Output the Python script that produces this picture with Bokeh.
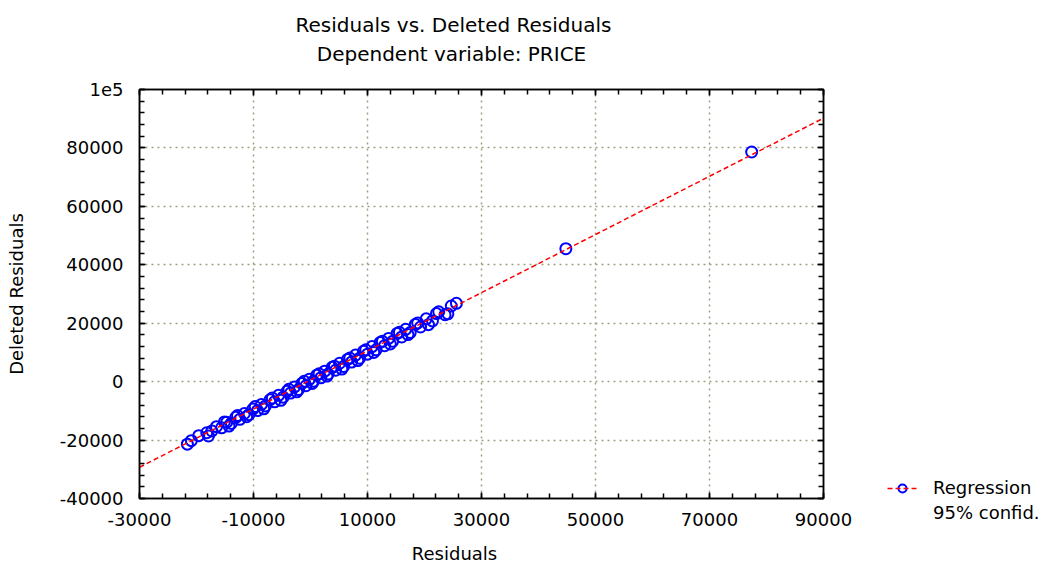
from bokeh.plotting import figure
from bokeh.layouts import row, column
from bokeh.models import (FixedTicker, LinearAxis, Range1d, Legend, LegendItem,
                          Label, ColumnDataSource, Spacer)
from bokeh.embed import file_html
from bokeh.resources import INLINE

# ---------------- data ----------------
residuals = [-21600, -20900, -19600, -18200, -17900, -17300, -16500, -15600, -15100, -14700,
             -14300, -13900, -13100, -12800, -12400, -11600, -11200, -10800, -10100, -9700,
             -9300, -8600, -8200, -7900, -7100, -6700, -6300, -5600, -5200, -4800,
             -4100, -3800, -3500, -2800, -2400, -2100, -1500, -1100, -800, -200,
             300, 500, 1100, 1500, 1800, 2500, 2900, 3100, 3800, 4200,
             4400, 5100, 5500, 5800, 6500, 6900, 7200, 7900, 8300, 8600,
             9300, 9700, 10000, 10800, 11100, 11500, 12200, 12600, 13000, 13700,
             14000, 14400, 15200, 15600, 16000, 16700, 17100, 17500, 18400, 18800,
             19300, 20300, 20700, 21400, 22100, 22500, 23600, 24100, 24700, 25600,
             44800, 77400]
deleted_residuals = [-21400, -20200, -18500, -17500, -18600, -16900, -15400, -15800, -13800, -13900,
                     -15200, -14300, -12200, -11600, -12900, -10900, -12000, -11300, -9400, -8500,
                     -9900, -7800, -9300, -8300, -6200, -5600, -6900, -4700, -6400, -5300,
                     -3300, -2600, -3900, -1800, -3500, -2700, -600, 100, -1400, 800,
                     -600, 100, 2200, 2700, 1300, 3600, 1900, 2600, 4900, 5300,
                     3900, 6300, 4300, 5200, 7600, 8100, 6700, 9100, 7200, 8000,
                     10400, 10900, 9400, 12000, 10000, 10900, 13400, 13800, 12300, 14800,
                     12900, 13800, 16500, 16900, 15300, 17900, 16100, 16800, 19600, 20100,
                     18700, 21500, 19500, 20800, 23300, 23900, 22900, 23200, 25900, 26800,
                     45500, 78600]
reg_x = [-30000, 90000]
reg_y = [-29300, 90200]

x_ticks = [-30000, -10000, 10000, 30000, 50000, 70000, 90000]
x_tick_labels = ["-30000", "-10000", "10000", "30000", "50000", "70000", "90000"]
y_ticks = [-40000, -20000, 0, 20000, 40000, 60000, 80000, 100000]
y_tick_labels = ["-40000", "-20000", "0", "20000", "40000", "60000", "80000", "1e5"]

title_text = "Residuals vs. Deleted Residuals"
subtitle_text = "Dependent variable: PRICE"
x_label = "Residuals"
y_label = "Deleted Residuals"
legend_labels = ["Regression", "95% confid."]

# ---------------- layout (pixel geometry of the page) ----------------
W, H = 1050, 565
TOP_H = 75           # strip holding the two titles
BOT_H = 25           # strip holding the x-axis title
MID_H = H - TOP_H - BOT_H
MAIN_W = 860
SIDE_W = W - MAIN_W
FL, FR, FT, FB = 139, 823, 89, 498      # frame edges on the page
X0, X1 = -30000, 90000
Y0, Y1 = -40000, 100000
LEG_LEFT, LEG_TOP = 887, 477            # legend glyph column / top edge on the page
LEG_GAP = LEG_LEFT - MAIN_W             # legend margin inside its strip

FONT = "DejaVu Sans"
FS = "18px"


def strip(width, height):
    f = figure(width=width, height=height, output_backend="svg", toolbar_location=None,
               title=None, x_range=Range1d(0, width), y_range=Range1d(0, height),
               x_axis_location=None, y_axis_location=None,
               min_border=0, min_border_left=0, min_border_right=0,
               min_border_top=0, min_border_bottom=0)
    f.outline_line_color = None
    f.grid.visible = False
    f.background_fill_color = "white"
    f.border_fill_color = "white"
    return f


def put_text(f, txt, px, py, size, height, top_offset=0):
    f.add_layout(Label(x=px, y=height - (py - top_offset), text=txt, text_font=FONT,
                       text_font_size=size, text_align="center", text_baseline="middle",
                       text_color="black"))


# ---- title strip ----
top = strip(W, TOP_H)
put_text(top, title_text, 453, 24, "20px", TOP_H)
put_text(top, subtitle_text, 451, 53, "20px", TOP_H)

# ---- main plot ----
p = figure(width=MAIN_W, height=MID_H, output_backend="svg", toolbar_location=None, title=None,
           x_range=Range1d(X0, X1), y_range=Range1d(Y0, Y1),
           x_axis_location=None, y_axis_location=None,
           min_border_left=FL, min_border_right=MAIN_W - FR,
           min_border_top=FT - TOP_H, min_border_bottom=TOP_H + MID_H - FB)
p.background_fill_color = "white"
p.border_fill_color = "white"
p.outline_line_color = "black"
p.outline_line_width = 1.5

minor_x = list(range(X0, X1 + 1, 4000))
minor_y = list(range(Y0, Y1 + 1, 4000))


def make_axis(kind, labels):
    ticks = x_ticks if kind == "x" else y_ticks
    tl = x_tick_labels if kind == "x" else y_tick_labels
    ax = LinearAxis(ticker=FixedTicker(ticks=ticks, minor_ticks=minor_x if kind == "x" else minor_y))
    ax.axis_line_color = "black"
    ax.axis_line_width = 1.5
    ax.major_tick_in = 6
    ax.major_tick_out = 0
    ax.minor_tick_in = 5
    ax.minor_tick_out = 0
    ax.major_tick_line_width = 1.5
    ax.minor_tick_line_width = 1.5
    ax.major_tick_line_color = "black"
    ax.minor_tick_line_color = "black"
    if labels:
        ax.major_label_overrides = {t: s for t, s in zip(ticks, tl)}
        ax.major_label_text_font = FONT
        ax.major_label_text_font_size = FS
        ax.major_label_text_color = "black"
    else:
        ax.major_label_overrides = {t: "" for t in ticks}
        ax.major_label_text_font_size = "0px"
        ax.major_label_standoff = 0
    return ax


xb = make_axis("x", True)
xb.major_label_standoff = 14
yl = make_axis("y", True)
yl.major_label_standoff = 16
yl.axis_label = y_label
yl.axis_label_text_font = FONT
yl.axis_label_text_font_size = FS
yl.axis_label_text_font_style = "normal"
yl.axis_label_text_color = "black"
yl.axis_label_standoff = 30

p.add_layout(xb, "below")
p.add_layout(yl, "left")
p.add_layout(make_axis("x", False), "above")
p.add_layout(make_axis("y", False), "right")

p.xgrid.ticker = FixedTicker(ticks=x_ticks)
p.ygrid.ticker = FixedTicker(ticks=y_ticks)
for g in (p.xgrid, p.ygrid):
    g.grid_line_color = "#a09e80"
    g.grid_line_dash = "2 4"
    g.grid_line_width = 1.5

src = ColumnDataSource(dict(x=residuals, y=deleted_residuals))
pts_style = dict(marker="circle", size=11, line_color="#0000ff", line_width=2, fill_color=None)
reg_style = dict(line_color="#ff0000", line_width=1.5, line_dash="5 3")
p.scatter("x", "y", source=src, **pts_style)
p.line(reg_x, reg_y, **reg_style)

# ---- legend (right of the plot): spacer above, legend strip below ----
LEG_STRIP_H = 80
side_spacer = Spacer(width=SIDE_W, height=(LEG_TOP - LEG_GAP) - TOP_H)
lg = strip(SIDE_W, MID_H - ((LEG_TOP - LEG_GAP) - TOP_H))
off = -10000  # keep the legend's proxy glyphs outside the strip's visible range
lg_pts = lg.scatter(x=[off], y=[off], **pts_style)
lg_reg = lg.line(x=[off, off + 1], y=[off, off], **reg_style)
lg_conf = lg.line(x=[off, off + 1], y=[off, off], line_color="#ff0000", line_alpha=0)

legend = Legend(items=[LegendItem(label=legend_labels[0], renderers=[lg_pts, lg_reg]),
                       LegendItem(label=legend_labels[1], renderers=[lg_conf])],
                location="top_left")
legend.label_text_font = FONT
legend.label_text_font_size = FS
legend.label_text_color = "black"
legend.glyph_width = 30
legend.glyph_height = 20
legend.label_height = 20
legend.spacing = 4
legend.padding = 0
legend.margin = LEG_GAP
legend.label_standoff = 16
legend.border_line_color = None
legend.background_fill_alpha = 0
lg.add_layout(legend, "center")

# ---- x-axis title strip ----
bot = strip(W, BOT_H)
put_text(bot, x_label, 454, 553, FS, BOT_H, top_offset=TOP_H + MID_H)

layout = column(top, row(p, column(side_spacer, lg, spacing=0), spacing=0), bot, spacing=0)
open("out.html", "w").write(file_html(layout, INLINE))
